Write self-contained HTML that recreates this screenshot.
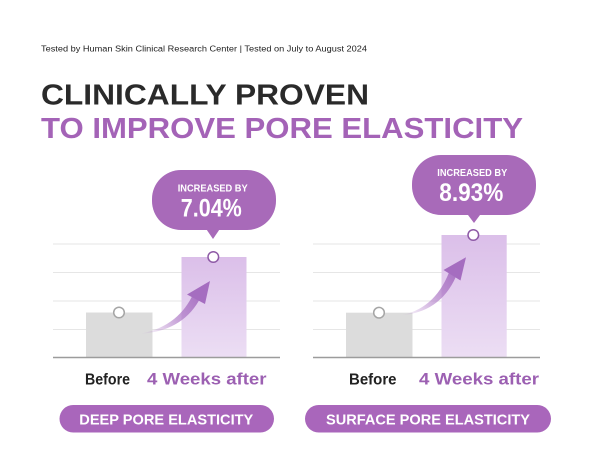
<!DOCTYPE html>
<html>
<head>
<meta charset="utf-8">
<style>
html,body{margin:0;padding:0;background:#fff;}
svg{display:block;}
text{font-family:"Liberation Sans",sans-serif;}
</style>
</head>
<body>
<svg width="600" height="450" viewBox="0 0 600 450" xmlns="http://www.w3.org/2000/svg">
<defs>
<linearGradient id="barG" x1="0" y1="0" x2="0" y2="1">
<stop offset="0" stop-color="#dbbfe9"/>
<stop offset="1" stop-color="#ecdef4"/>
</linearGradient>
<linearGradient id="arrL" gradientUnits="userSpaceOnUse" x1="140" y1="333" x2="205" y2="290">
<stop offset="0" stop-color="#b27fca" stop-opacity="0"/>
<stop offset="0.5" stop-color="#b07dc8" stop-opacity="0.7"/>
<stop offset="1" stop-color="#a56dc0"/>
</linearGradient>
<linearGradient id="arrR" gradientUnits="userSpaceOnUse" x1="400" y1="314" x2="461" y2="266">
<stop offset="0" stop-color="#b27fca" stop-opacity="0"/>
<stop offset="0.5" stop-color="#b07dc8" stop-opacity="0.7"/>
<stop offset="1" stop-color="#a56dc0"/>
</linearGradient>
</defs>
<rect width="600" height="450" fill="#fff"/>

<!-- header -->
<text x="41" y="51.3" font-size="8" fill="#1e1e1e" textLength="326" lengthAdjust="spacingAndGlyphs">Tested by Human Skin Clinical Research Center  |  Tested on July to August 2024</text>
<text x="41" y="104.3" font-size="29" font-weight="bold" fill="#2a2a2a" textLength="328" lengthAdjust="spacingAndGlyphs">CLINICALLY PROVEN</text>
<text x="41" y="138" font-size="29" font-weight="bold" fill="#a463b7" textLength="482" lengthAdjust="spacingAndGlyphs">TO IMPROVE PORE ELASTICITY</text>

<!-- LEFT CHART -->
<g stroke="#e6e6e6" stroke-width="1">
<line x1="53" y1="244" x2="280" y2="244"/>
<line x1="53" y1="272.5" x2="280" y2="272.5"/>
<line x1="53" y1="301" x2="280" y2="301"/>
<line x1="53" y1="329.5" x2="280" y2="329.5"/>
</g>
<rect x="86" y="312.5" width="66.5" height="45" fill="#dcdcdc"/>
<rect x="181.5" y="257" width="65" height="100.5" fill="url(#barG)"/>
<line x1="53" y1="357.5" x2="280" y2="357.5" stroke="#9c9c9c" stroke-width="1.6"/>
<path d="M138,334 Q176,328 192,296.5 L199,300.5 Q181,332 138,334 Z" fill="url(#arrL)"/>
<path d="M210,281 L187,294.5 L205,304 Z" fill="#a56dc0"/>
<circle cx="119" cy="312.5" r="5.3" fill="#fff" stroke="#a5a5a5" stroke-width="1.5"/>
<circle cx="213.3" cy="257" r="5.3" fill="#fff" stroke="#8e5aa6" stroke-width="1.5"/>
<rect x="152" y="170" width="124" height="60" rx="29" ry="29" fill="#a86ab9"/>
<path d="M205.5,228 L220.5,228 L213,239 Z" fill="#a86ab9"/>
<text x="212.7" y="191.7" font-size="10.5" font-weight="bold" fill="#fff" text-anchor="middle" textLength="70" lengthAdjust="spacingAndGlyphs">INCREASED BY</text>
<text x="211.3" y="216.7" font-size="25" font-weight="bold" fill="#fff" text-anchor="middle" textLength="61" lengthAdjust="spacingAndGlyphs">7.04%</text>
<text x="85" y="384.3" font-size="16" font-weight="bold" fill="#222" textLength="45" lengthAdjust="spacingAndGlyphs">Before</text>
<text x="147" y="384.3" font-size="17" font-weight="bold" fill="#9c60b2" textLength="119.5" lengthAdjust="spacingAndGlyphs">4 Weeks after</text>

<!-- RIGHT CHART -->
<g stroke="#e6e6e6" stroke-width="1">
<line x1="313" y1="244" x2="540" y2="244"/>
<line x1="313" y1="272.5" x2="540" y2="272.5"/>
<line x1="313" y1="301" x2="540" y2="301"/>
<line x1="313" y1="329.5" x2="540" y2="329.5"/>
</g>
<rect x="346" y="312.7" width="66.5" height="44.8" fill="#dcdcdc"/>
<rect x="441.5" y="235" width="65.2" height="122.5" fill="url(#barG)"/>
<line x1="313" y1="357.5" x2="540" y2="357.5" stroke="#9c9c9c" stroke-width="1.6"/>
<path d="M399,315.5 Q434,310 449,272.5 L456,276.5 Q440,313 399,315.5 Z" fill="url(#arrR)"/>
<path d="M466,257.3 L443.5,270 L460.5,280.5 Z" fill="#a56dc0"/>
<circle cx="379" cy="312.7" r="5.3" fill="#fff" stroke="#a5a5a5" stroke-width="1.5"/>
<circle cx="473.3" cy="235" r="5.3" fill="#fff" stroke="#8e5aa6" stroke-width="1.5"/>
<rect x="412" y="155" width="124" height="60" rx="29" ry="29" fill="#a86ab9"/>
<path d="M466.5,213 L481.5,213 L474,223 Z" fill="#a86ab9"/>
<text x="472.3" y="176" font-size="10.5" font-weight="bold" fill="#fff" text-anchor="middle" textLength="70" lengthAdjust="spacingAndGlyphs">INCREASED BY</text>
<text x="471.3" y="201" font-size="25" font-weight="bold" fill="#fff" text-anchor="middle" textLength="64" lengthAdjust="spacingAndGlyphs">8.93%</text>
<text x="349" y="384.3" font-size="16" font-weight="bold" fill="#222" textLength="47.5" lengthAdjust="spacingAndGlyphs">Before</text>
<text x="419" y="384.3" font-size="17" font-weight="bold" fill="#9c60b2" textLength="120" lengthAdjust="spacingAndGlyphs">4 Weeks after</text>

<!-- pills -->
<rect x="59.5" y="405" width="214.5" height="27.5" rx="13.75" ry="13.75" fill="#a966bb"/>
<text x="79.3" y="424.3" font-size="15" font-weight="bold" fill="#fff" textLength="174" lengthAdjust="spacingAndGlyphs">DEEP PORE ELASTICITY</text>
<rect x="305" y="405" width="246" height="27.5" rx="13.75" ry="13.75" fill="#a966bb"/>
<text x="326" y="424.3" font-size="15" font-weight="bold" fill="#fff" textLength="204" lengthAdjust="spacingAndGlyphs">SURFACE PORE ELASTICITY</text>
</svg>
</body>
</html>
